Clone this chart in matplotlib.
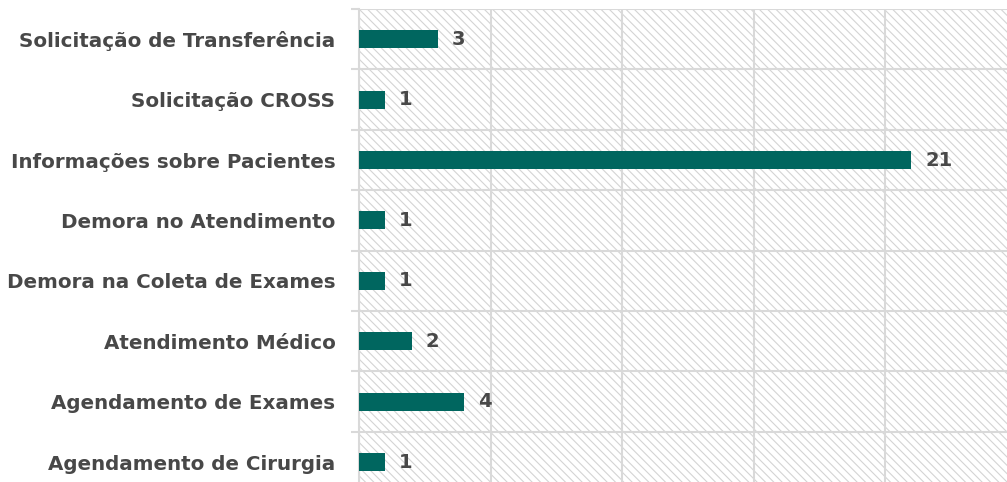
import matplotlib
matplotlib.use("Agg")
import matplotlib.pyplot as plt
from matplotlib.patches import Rectangle
import numpy as np

# ------------------------- data -------------------------
categories = [
    "Solicitação de Transferência",
    "Solicitação CROSS",
    "Informações sobre Pacientes",
    "Demora no Atendimento",
    "Demora na Coleta de Exames",
    "Atendimento Médico",
    "Agendamento de Exames",
    "Agendamento de Cirurgia",
]
values = [3, 1, 21, 1, 1, 2, 4, 1]

# ------------------------ styling -----------------------
BAR_COLOR = "#00665f"
GRID_COLOR = "#d9d9d9"
TEXT_COLOR = "#484848"
plt.rcParams["font.family"] = ["DejaVu Sans"]
plt.rcParams["hatch.linewidth"] = 0.8

fig = plt.figure(figsize=(10.07, 4.82), dpi=100)
ax = fig.add_axes([359 / 1007, 0.0, 1 - 359 / 1007, 1 - 9 / 482])

y = np.arange(len(categories))

# hatched plot background
ax.add_patch(Rectangle((0, 0), 1, 1, transform=ax.transAxes, facecolor="white",
                       edgecolor="#d4d4d4", linewidth=0, hatch="\\\\\\\\", zorder=0))

ax.barh(y, values, height=0.3, color=BAR_COLOR, zorder=3)
for yi, v in zip(y, values):
    ax.annotate(str(v), (v, yi), xytext=(10, 0), textcoords="offset points",
                ha="left", va="center", fontsize=14, fontweight="bold",
                color=TEXT_COLOR, zorder=4)

ax.set_xticks(np.arange(0, 30, 5))
ax.set_yticks(y)
ax.set_yticklabels(categories, fontsize=14.3, fontweight="bold", color=TEXT_COLOR)
ax.set_yticks(np.arange(-0.5, len(categories), 1.0), minor=True)
ax.tick_params(axis="y", which="major", length=0, pad=17)
ax.tick_params(axis="y", which="minor", length=6, width=1.5, color=GRID_COLOR, direction="out")
ax.tick_params(axis="x", which="both", length=0, labelbottom=False)

# limits after ticks (set_ticks widens the view)
ax.set_xlim(0, (1007 - 359) / 26.3)
ax.set_ylim(7.33, -0.5)

ax.grid(True, axis="x", which="major", color=GRID_COLOR, linewidth=1.5, zorder=1)
ax.grid(True, axis="y", which="minor", color=GRID_COLOR, linewidth=1.5, zorder=1)
ax.set_axisbelow(True)

for side in ["top", "right", "bottom"]:
    ax.spines[side].set_visible(False)
ax.spines["left"].set_color(GRID_COLOR)
ax.spines["left"].set_linewidth(1.5)

fig.savefig("out.png", dpi=100)
